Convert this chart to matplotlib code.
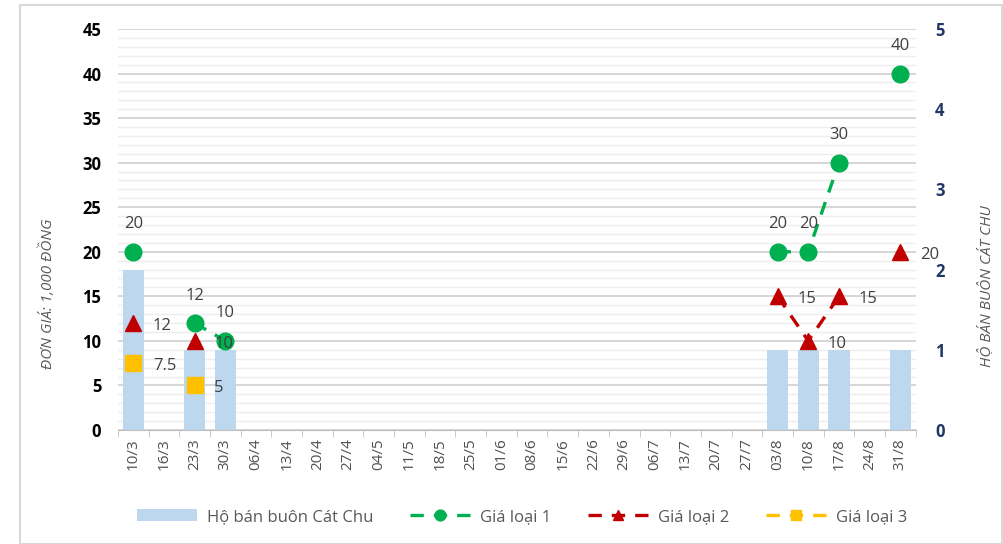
import numpy as np
import matplotlib.pyplot as plt
from matplotlib.ticker import MultipleLocator

plt.rcParams['font.family'] = ['Open Sans', 'DejaVu Sans']

ngay = ["10/3", "16/3", "23/3", "30/3", "06/4", "13/4", "20/4", "27/4", "04/5",
        "11/5", "18/5", "25/5", "01/6", "08/6", "15/6", "22/6", "29/6", "06/7",
        "13/7", "20/7", "27/7", "03/8", "10/8", "17/8", "24/8", "31/8"]
nan = np.nan
# Hộ bán buôn (trục phải)
ho_ban_buon = [2, 0, 1, 1] + [0] * 17 + [1, 1, 1, 0, 1]
gia_loai_1 = [20, nan, 12, 10] + [nan] * 17 + [20, 20, 30, nan, 40]
gia_loai_2 = [12, nan, 10, nan] + [nan] * 17 + [15, 10, 15, nan, 20]
gia_loai_3 = [7.5, nan, 5, nan] + [nan] * 17 + [nan, nan, nan, nan, nan]

x = np.arange(len(ngay))
vi_tri = [0.1175, 0.2096, 0.7945, 0.7371]

fig = plt.figure(figsize=(10.04, 5.44), dpi=100)

# trục nền chỉ để vẽ lưới (nằm dưới cột)
ax_luoi = fig.add_axes(vi_tri, zorder=0)
ax_luoi.set_ylim(0, 45)
ax_luoi.set_xlim(-0.5, len(ngay) - 0.5)
ax_luoi.yaxis.set_major_locator(MultipleLocator(5))
ax_luoi.yaxis.set_minor_locator(MultipleLocator(1))
ax_luoi.grid(axis="y", which="major", color="#D0D0D0", lw=1.2)
ax_luoi.grid(axis="y", which="minor", color="#EDEDED", lw=1.0)
ax_luoi.tick_params(which="both", left=False, bottom=False,
                    labelleft=False, labelbottom=False)
for s in ax_luoi.spines.values():
    s.set_visible(False)

ax2 = fig.add_axes(vi_tri, zorder=1)
ax2.patch.set_visible(False)
ax = fig.add_axes(vi_tri, zorder=2)
ax.patch.set_visible(False)

cot = ax2.bar(x, ho_ban_buon, width=0.7, color="#BDD7EE", label="Hộ bán buôn Cát Chu")

l1, = ax.plot(x, gia_loai_1, "--", color="#00B050", lw=2.4, marker="o", ms=12,
              dashes=(4, 3), label="Giá loại 1")
l2, = ax.plot(x, gia_loai_2, "--", color="#C00000", lw=2.4, marker="^", ms=12,
              dashes=(4, 3), label="Giá loại 2")
l3, = ax.plot(x, gia_loai_3, "--", color="#FFC000", lw=2.4, marker="s", ms=11,
              dashes=(4, 3), label="Giá loại 3")

# nhãn dữ liệu
mau_chu = "#404040"
for i, v in enumerate(gia_loai_1):
    if not np.isnan(v):
        ax.annotate(f"{v:g}", (i, v), xytext=(0, 14), textcoords="offset points",
                    ha="center", va="bottom", fontsize=12, color=mau_chu)
for ds in (gia_loai_2, gia_loai_3):
    for i, v in enumerate(ds):
        if not np.isnan(v):
            ax.annotate(f"{v:g}", (i, v), xytext=(14, -2), textcoords="offset points",
                        ha="left", va="center", fontsize=12, color=mau_chu)

ax.set_xlim(-0.5, len(ngay) - 0.5)
ax2.set_xlim(-0.5, len(ngay) - 0.5)
ax.set_ylim(0, 45)
ax2.set_ylim(0, 5)
ax.yaxis.set_major_locator(MultipleLocator(5))
ax2.yaxis.set_major_locator(MultipleLocator(1))
ax2.yaxis.tick_right()
ax2.yaxis.set_label_position("right")
ax2.tick_params(axis="x", bottom=False, labelbottom=False)

ax.set_xticks(x)
ax.set_xticklabels(ngay, rotation=90, fontsize=11, color="#505050")
ax.set_xticks(np.arange(-0.5, len(ngay)), minor=True)
ax.tick_params(axis="x", which="major", length=0, pad=6)
ax.tick_params(axis="x", which="minor", length=5, color="#BFBFBF")
ax.tick_params(axis="y", which="both", length=0, labelsize=12, pad=12)
for t in ax.get_yticklabels():
    t.set_fontweight("bold")
ax2.tick_params(axis="y", length=0, labelsize=12, labelcolor="#1F3864", pad=14)
for t in ax2.get_yticklabels():
    t.set_fontweight("bold")

for a in (ax, ax2):
    for s in a.spines.values():
        s.set_visible(False)
ax.spines["bottom"].set_visible(True)
ax.spines["bottom"].set_color("#BFBFBF")

ax.set_ylabel("ĐƠN GIÁ: 1,000 ĐỒNG", fontsize=11, style="italic", color="#595959")
ax.yaxis.set_label_coords(-0.078, 0.34)
ax2.set_ylabel("HỘ BÁN BUÔN CÁT CHU", fontsize=11, style="italic", color="#595959",
               rotation=90)
ax2.yaxis.set_label_coords(1.078, 0.36)

handles = [cot, l1, l2, l3]
labels = ["Hộ bán buôn Cát Chu", "Giá loại 1", "Giá loại 2", "Giá loại 3"]
fig.legend(handles, labels, loc="center",
           bbox_to_anchor=(0.52, 0.05), ncol=4, frameon=False, fontsize=12,
           handlelength=3.6, columnspacing=2.2, handletextpad=0.6,
           markerscale=0.65, labelcolor="#595959")

fig.patches.append(plt.Rectangle((0.02, 0.0), 0.978, 0.99, transform=fig.transFigure,
                                 fill=False, edgecolor="#D9D9D9", lw=1.5))

fig.savefig("out.png", dpi=100)
